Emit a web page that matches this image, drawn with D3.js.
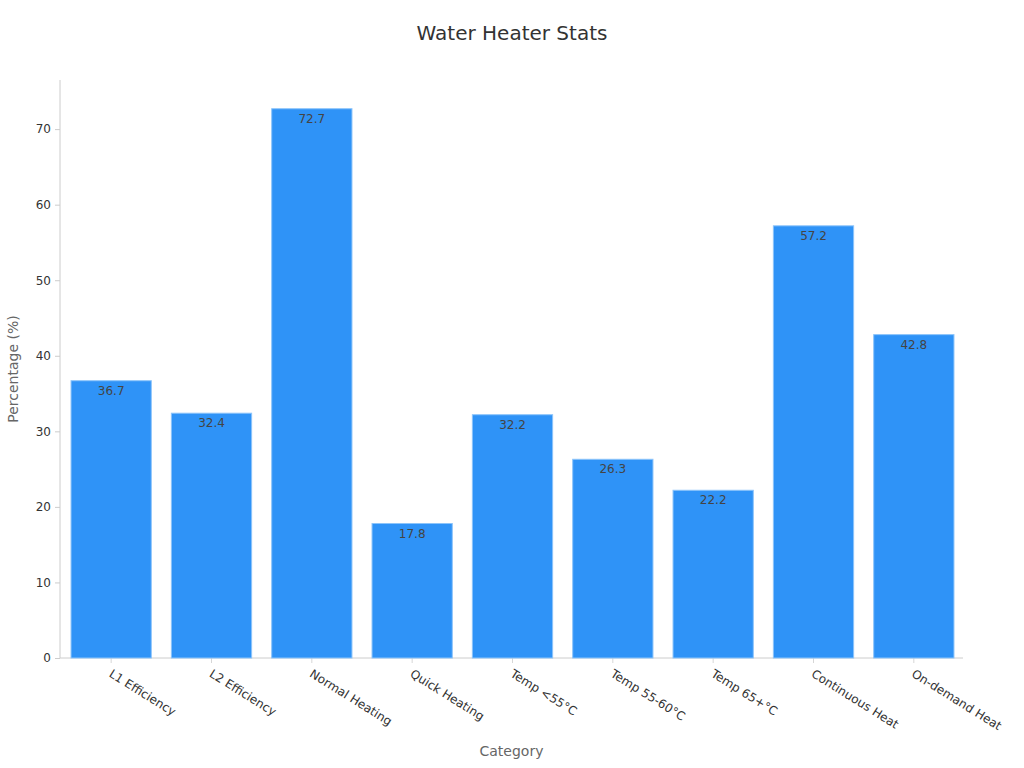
<!DOCTYPE html>
<html lang="en">
<head>
  <meta charset="UTF-8"/>
  <title>Water Heater Stats</title>
  <script src="https://d3js.org/d3.v7.min.js"></script>
  <style>
    body { margin: 0; background: #fff; font-family: "DejaVu Sans", sans-serif; }
    svg { display: block; }
    .axis path, .axis line { stroke: #ccc; }
    .axis text { fill: #333; font-size: 12px; font-family: "DejaVu Sans", sans-serif; }
  </style>
</head>
<body>
<div id="chart"></div>
<script>
// Chart data
const categories = ['L1 Efficiency', 'L2 Efficiency', 'Normal Heating', 'Quick Heating',
  'Temp <55°C', 'Temp 55-60°C', 'Temp 65+°C', 'Continuous Heat', 'On-demand Heat'];
const values = [36.7, 32.4, 72.7, 17.8, 32.2, 26.3, 22.2, 57.2, 42.8];
const yTicks = [0, 10, 20, 30, 40, 50, 60, 70];

const width = 1024, height = 768;
const margin = {top: 80, right: 61, bottom: 110, left: 60};

const svg = d3.select('#chart').append('svg')
  .attr('width', width).attr('height', height);

const x = d3.scaleBand()
  .domain(categories)
  .range([margin.left + 1, width - margin.right + 1])
  .paddingInner(0.2).paddingOuter(0.1);

const y = d3.scaleLinear()
  .domain([0, 76.5])
  .range([height - margin.bottom, margin.top]);

// Title
svg.append('text')
  .attr('x', width / 2).attr('y', 40)
  .attr('text-anchor', 'middle')
  .attr('fill', '#333').attr('font-size', 20)
  .text('Water Heater Stats');

// Y axis
const yAxis = svg.append('g').attr('class', 'axis')
  .attr('transform', `translate(${margin.left},0)`)
  .call(d3.axisLeft(y).tickValues(yTicks).tickSize(5).tickPadding(4));
yAxis.select('.domain').attr('d', `M0,${y(0)}V${margin.top}`);
yAxis.selectAll('.tick line').attr('stroke', '#333');

// X axis
const xAxis = svg.append('g').attr('class', 'axis')
  .attr('transform', `translate(0,${y(0)})`)
  .call(d3.axisBottom(x).tickSize(5).tickSizeOuter(0));
xAxis.select('.domain').attr('d', `M${margin.left},0H${width - margin.right}`);
xAxis.selectAll('.tick line').attr('stroke', '#333').attr('stroke-opacity', 0.8);
xAxis.selectAll('.tick text')
  .attr('text-anchor', 'start')
  .attr('font-size', 13)
  .attr('dy', 0).attr('y', 0)
  .attr('transform', 'translate(-3,18) rotate(32)');

// Bars
svg.append('g').selectAll('rect')
  .data(values).join('rect')
  .attr('x', (d, i) => x(categories[i]))
  .attr('y', d => y(d))
  .attr('width', x.bandwidth())
  .attr('height', d => y(0) - y(d))
  .attr('fill', '#2f93f7')
  .attr('stroke', '#8cc4fa').attr('stroke-width', 1);

// Value labels
svg.append('g').selectAll('text')
  .data(values).join('text')
  .attr('x', (d, i) => x(categories[i]) + x.bandwidth() / 2)
  .attr('y', d => y(d) + 14)
  .attr('text-anchor', 'middle')
  .attr('fill', '#444').attr('font-size', 12)
  .text(d => d.toFixed(1));

// Axis titles
svg.append('text')
  .attr('x', (margin.left + width - margin.right) / 2).attr('y', 756)
  .attr('text-anchor', 'middle')
  .attr('fill', '#666').attr('font-size', 14)
  .text('Category');

svg.append('text')
  .attr('transform', `translate(18,${(margin.top + y(0)) / 2}) rotate(-90)`)
  .attr('text-anchor', 'middle')
  .attr('fill', '#666').attr('font-size', 14)
  .text('Percentage (%)');
</script>
</body>
</html>
